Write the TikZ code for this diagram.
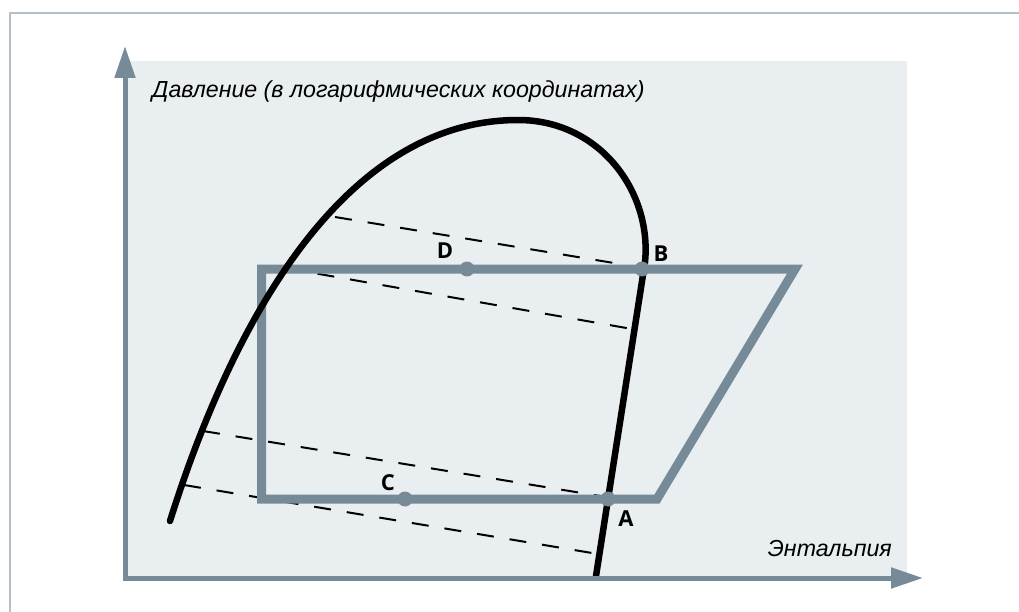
\documentclass[tikz,border=0pt]{standalone}
\usepackage{fontspec}
\setmainfont{Liberation Sans}
\newfontfamily\lblfont{Open Sans}
\usetikzlibrary{arrows.meta}
\definecolor{framec}{HTML}{B3C0C8}
\definecolor{bgc}{HTML}{E9EEF1}
\definecolor{axc}{HTML}{768B97}
\tikzset{
  axisline/.style={draw=axc, line width=5pt, -{Triangle[length=32pt,width=20pt]}},
  cycleline/.style={draw=axc, line width=9pt, line join=miter},
  isoline/.style={draw=black, line width=2pt, dash pattern=on 17pt off 16pt},
  domeline/.style={draw=black, line width=6.5pt, line cap=round},
  statedot/.style={circle, fill=axc, inner sep=0pt, minimum size=15pt},
  statelbl/.style={font=\lblfont\bfseries\fontsize{22}{22}\selectfont, inner sep=0pt},
  axislbl/.style={font=\itshape\fontsize{23.2}{23.2}\selectfont, inner sep=0pt}
}
\begin{document}
\begin{tikzpicture}[x=1pt,y=-1pt]
\useasboundingbox (0,0) rectangle (1019,612);
% frame
\draw[framec, line width=2pt] (10,612) -- (10,13) -- (1019,13);
% background
\fill[bgc] (125,61) rectangle (907,580);
% dashed isolines
\coordinate (i1a) at (335,217); \coordinate (i1b) at (620,264);
\coordinate (i2a) at (285,268); \coordinate (i2b) at (632,329);
\coordinate (i3a) at (203,431); \coordinate (i3b) at (600,496);
\coordinate (i4a) at (184,485); \coordinate (i4b) at (598,554);
\draw[isoline] (i1a) -- (i1b);
\draw[isoline] (i2a) -- (i2b);
\draw[isoline] (i3a) -- (i3b);
\draw[isoline] (i4a) -- (i4b);
% cycle
\coordinate (r1) at (261.5,269);
\coordinate (r2) at (795,269);
\coordinate (r3) at (657,499);
\coordinate (r4) at (261.5,499);
\draw[cycleline] (r1) -- (r2) -- (r3) -- (r4) -- cycle;
% saturation dome
\coordinate (dL) at (170,521);
\coordinate (dTop) at (518,120);
\coordinate (dR) at (645,262);
\coordinate (dE) at (596,576);
\draw[domeline] (dL) .. controls (230,330) and (340,120) .. (dTop)
  .. controls (600,120) and (652,192) .. (dR) -- (dE);
% axes
\coordinate (O) at (125,580);
\coordinate (Ytip) at (125,46);
\coordinate (Xo) at (123,578);
\coordinate (Xtip) at (923,578);
\draw[axisline] (O) -- (Ytip);
\draw[axisline] (Xo) -- (Xtip);
% state points
\node[statedot] (D) at (467,269) {};
\node[statedot] (B) at (642,269) {};
\node[statedot] (C) at (405,499) {};
\node[statedot] (A) at (608,499) {};
\node[statelbl] (Dl) at (445,251) {D};
\node[statelbl] (Bl) at (661,254) {B};
\node[statelbl] (Cl) at (388,483) {C};
\node[statelbl] (Al) at (626,519) {A};
% axis labels
\node[axislbl, anchor=base west] (ylab) at (152,98) {Давление (в логарифмических координатах)};
\node[axislbl, anchor=base east] (xlab) at (892,556) {Энтальпия};
\end{tikzpicture}
\end{document}
